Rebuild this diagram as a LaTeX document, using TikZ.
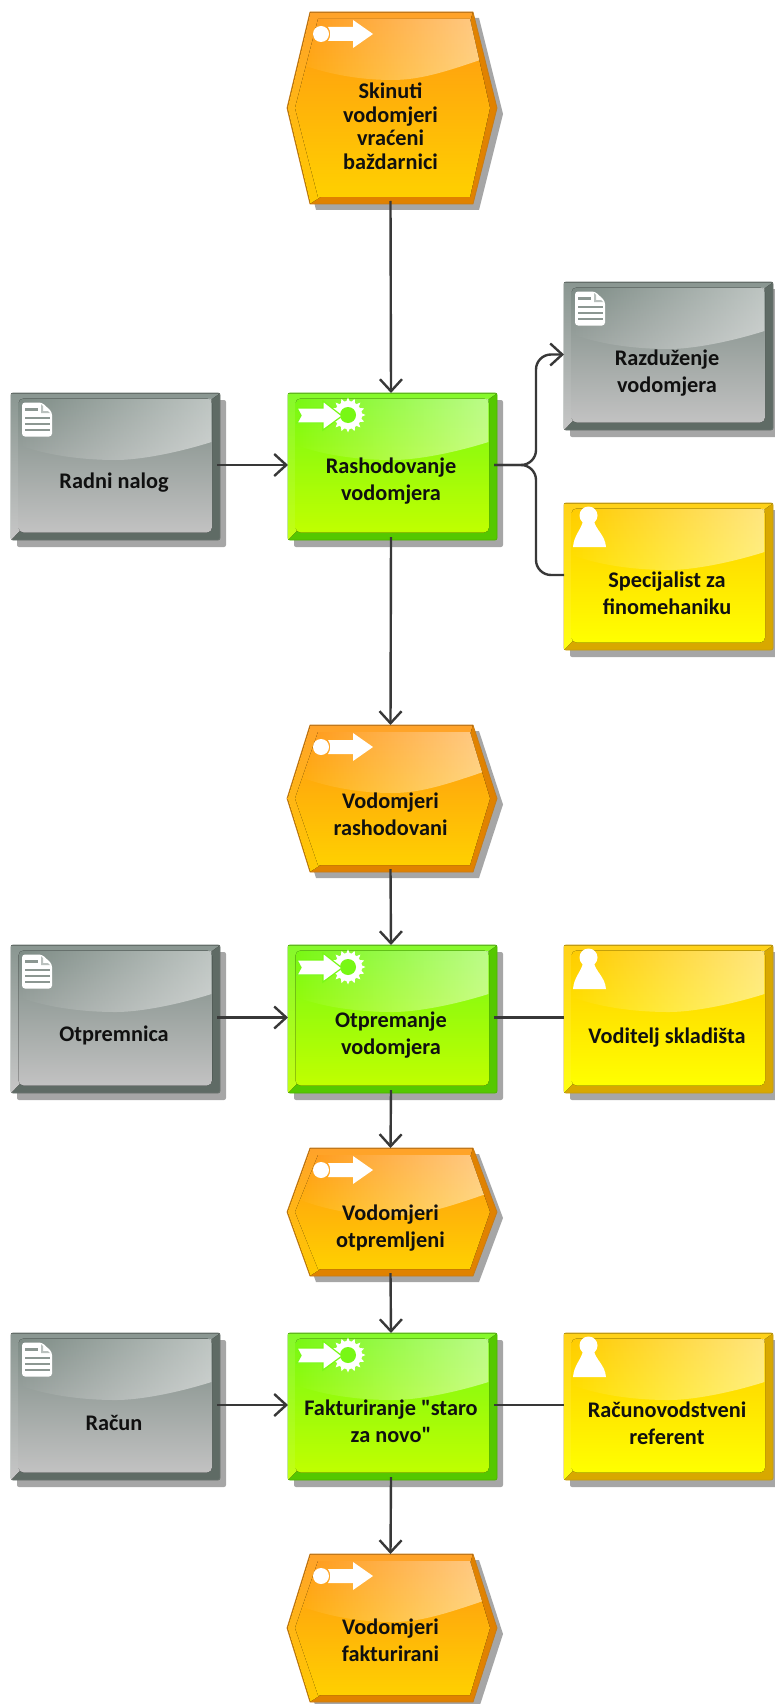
\documentclass[tikz,border=0pt]{standalone}
\usepackage{fontspec}
\newfontfamily\boxfont{Carlito}
\usetikzlibrary{arrows.meta,fadings}
\definecolor{grayDark}{HTML}{5F6B65}\definecolor{grayLine}{HTML}{6A736E}\definecolor{grayTop}{HTML}{7D8B85}\definecolor{grayBot}{HTML}{C2C2C2}
\definecolor{greenDark}{HTML}{55C800}\definecolor{greenLine}{HTML}{4DB400}\definecolor{greenTop}{HTML}{78F814}\definecolor{greenBot}{HTML}{C0FF00}
\definecolor{yelDark}{HTML}{D8A800}\definecolor{yelLine}{HTML}{C89C10}\definecolor{yelTop}{HTML}{FFCC00}\definecolor{yelBot}{HTML}{FFFF00}
\definecolor{oraDark}{HTML}{E08200}\definecolor{oraLine}{HTML}{C87C18}\definecolor{oraTop}{HTML}{FF9812}\definecolor{oraBot}{HTML}{FFD000}
\definecolor{shadowc}{HTML}{A6A6A6}\definecolor{stripec}{HTML}{8C9792}\definecolor{connc}{HTML}{383838}\definecolor{txtc}{HTML}{101010}
\tikzfading[name=glossfade,left color=transparent!100,right color=transparent!50]
\tikzset{
  conn/.style={draw=connc,line width=2.4pt},
  connarrow/.style={conn,-{Straight Barb[length=12pt,width=22pt,line width=2.4pt]}},
  boxtext/.style={inner sep=0pt,outer sep=0pt,text=txtc,font=\boxfont\fontsize{22.3}{27}\selectfont\bfseries}
}
\newcommand\nodetxt[2]{\smash{\raisebox{-#1pt}{\begin{tabular}[c]{@{}c@{}}#2\end{tabular}}}}
% --- icons, local coordinates from box top-left
\newcommand\docicon[2]{\begin{scope}[shift={(#1,#2)}]
  \fill[white,rounded corners=3pt] (11,9.5) -- (31,9.5) -- (41,19) -- (41,43.5) -- (11,43.5) -- cycle;
  \fill[stripec] (14,15) rectangle (27,17.5);
  \fill[stripec] (14,24) rectangle (39,26.2);
  \fill[stripec] (14,30) rectangle (39,32.2);
  \fill[stripec] (14,36) rectangle (39,38.2);
  \fill[stripec!60!white] (30,11) -- (30,20) -- (39,20) -- (37,18) -- (32,18) -- (32,13) -- cycle;
\end{scope}}
\newcommand\personicon[2]{\begin{scope}[shift={(#1,#2)}]
  \fill[white] (24.5,12.5) circle (9);
  \fill[white] (9,44) .. controls (10,32) and (17,27) .. (19,18) -- (30,18) .. controls (32,27) and (41,32) .. (42,44) -- cycle;
\end{scope}}
\newcommand\eventicon[2]{\begin{scope}[shift={(#1,#2)}]
  \fill[white] (34,22) circle (8);
  \fill[white] (41,15) -- (66,15) -- (66,8) -- (86,22) -- (66,36) -- (66,29) -- (41,29) .. controls (44,25) and (44,19) .. (41,15) -- cycle;
\end{scope}}
\newcommand\funcicon[2]{\begin{scope}[shift={(#1,#2)}]
  \begin{scope}[shift={(60,22)}]
    \fill[white] (0,0) circle (14);
    \foreach \a in {0,22.5,...,337.5}{\fill[white] (\a-8:13.5) -- (\a:17.5) -- (\a+8:13.5) -- cycle;}
    \fill[greenTop] (0,0) circle (8);
  \end{scope}
  \filldraw[fill=white,draw=greenTop,line width=1.2pt] (9,15) -- (35,15) -- (35,8) -- (54,23) -- (35,37) -- (35,30) -- (9,30) -- (13,22.5) -- cycle;
\end{scope}}
% --- rectangle object: name, palette, L, T, R, B, icon, offset, text
\newcommand\rectobj[9]{%
  \fill[shadowc,rounded corners=2pt] (#3+6,#4+7) rectangle (#5+6,#6+7);
  \filldraw[fill=#2Dark,draw=#2Line,line width=.8pt,rounded corners=2pt] (#3,#4) rectangle (#5,#6);
  \fill[top color=#2Top!90!white,bottom color=#2Bot!93!white] (#3+.4,#4+.4) -- (#5-.4,#4+.4) -- (#5-8,#4+6) -- (#3+7.5,#6-8) -- (#3+.4,#6-.4) -- cycle;
  \fill[top color=#2Top,bottom color=#2Bot,rounded corners=5pt] (#3+7.5,#4+5.5) rectangle (#5-8,#6-7.5);
  \fill[white,path fading=glossfade] (#3+8,#4+6) -- (#5-8.5,#4+6) -- (#5-8.5,#4+49) .. controls (#5-50,#4+62) and (#5-85,#4+67) .. (#3+105,#4+67) .. controls (#3+70,#4+67) and (#3+35,#4+62) .. (#3+8,#4+52) -- cycle;
  #7
  \node[boxtext,minimum width={(#5-#3-3)*1pt},minimum height={(#6-#4-3)*1pt}] (#1) at ({(#3+#5)/2-1.5},{(#4+#6)/2-1.5}) {\nodetxt{#8}{#9}};
}
% --- hexagon event: name, T, B, offset, text
\newcommand\hexobj[5]{%
  \fill[shadowc] (287+6,{(#2+#3)/2+6}) -- (310+6,#2+6) -- (473+6,#2+6) -- (497+6,{(#2+#3)/2+6}) -- (473+6,#3+6) -- (310+6,#3+6) -- cycle;
  \filldraw[fill=oraDark,draw=oraLine,line width=.8pt,line join=round] (287,{(#2+#3)/2}) -- (310,#2) -- (473,#2) -- (497,{(#2+#3)/2}) -- (473,#3) -- (310,#3) -- cycle;
  \fill[top color=oraTop!90!white,bottom color=oraBot!92!orange] (287.6,{(#2+#3)/2}) -- (310.4,#2+.4) -- (472.6,#2+.4) -- (470,#2+10) -- (325,#2+10) -- (303,{(#2+#3)/2}) -- (325,#3-10) -- (310.4,#3-.4) -- cycle;
  \fill[top color=oraTop,bottom color=oraBot] (295,{(#2+#3)/2}) -- (318,#2+7) -- (470,#2+7) -- (490,{(#2+#3)/2}) -- (470,#3-7) -- (318,#3-7) -- cycle;
  \begin{scope}
    \clip (295,{(#2+#3)/2}) -- (318,#2+7) -- (470,#2+7) -- (490,{(#2+#3)/2}) -- (470,#3-7) -- (318,#3-7) -- cycle;
    \fill[white,path fading=glossfade] (295,#2+7) -- (486,#2+7) -- (486,#2+46) .. controls (445,#2+60) and (420,#2+68) .. (392,#2+68) .. controls (360,#2+68) and (325,#2+62) .. (295,#2+50) -- cycle;
  \end{scope}
  \eventicon{287}{#2}
  \node[boxtext,minimum width=207pt,minimum height={(#3-#2-3)*1pt}] (#1) at (390.5,{(#2+#3)/2-1.5}) {\nodetxt{#4}{#5}};
}
\begin{document}
\begin{tikzpicture}[x=1pt,y=-1pt]
\useasboundingbox (0,0) rectangle (775,1704);
\hexobj{hA}{12}{204}{27.5}{Skinuti\\[-3.5pt]vodomjeri\\[-3.5pt]vraćeni\\[-3.5pt]baždarnici}
\rectobj{fA}{green}{288}{393}{497}{540}{\funcicon{288}{393}}{21.5}{Rashodovanje\\vodomjera}
\rectobj{dA}{gray}{11}{393}{220}{540}{\docicon{11}{393}}{23.5}{Radni nalog}
\rectobj{dB}{gray}{564}{282}{773}{430}{\docicon{564}{282}}{24.5}{Razduženje\\vodomjera}
\rectobj{pA}{yel}{564}{503}{773}{650}{\personicon{564}{503}}{25.5}{Specijalist za\\finomehaniku}
\hexobj{hB}{725}{872}{24.5}{Vodomjeri\\rashodovani}
\rectobj{fB}{green}{288}{945}{497}{1093}{\funcicon{288}{945}}{23.5}{Otpremanje\\vodomjera}
\rectobj{dC}{gray}{11}{945}{220}{1093}{\docicon{11}{945}}{23.5}{Otpremnica}
\rectobj{pB}{yel}{564}{945}{773}{1093}{\personicon{564}{945}}{25.5}{Voditelj skladišta}
\hexobj{hC}{1148}{1276}{23}{Vodomjeri\\otpremljeni}
\rectobj{fC}{green}{288}{1333}{497}{1480}{\funcicon{288}{1333}}{23.5}{Fakturiranje "staro\\za novo"}
\rectobj{dD}{gray}{11}{1333}{220}{1480}{\docicon{11}{1333}}{25.5}{Račun}
\rectobj{pC}{yel}{564}{1333}{773}{1480}{\personicon{564}{1333}}{25.5}{Računovodstveni\\referent}
\hexobj{hD}{1554}{1702}{21.5}{Vodomjeri\\fakturirani}
\coordinate (bus) at (536,0);
\draw[connarrow] (hA.south) -- (fA.north);
\draw[connarrow] (dA.east) -- (fA.west);
\draw[connarrow,rounded corners=15pt] (fA.east) -- (fA.east -| bus) |- (dB.west);
\draw[conn,rounded corners=15pt] (fA.east) -- (fA.east -| bus) |- (pA.west);
\draw[connarrow] (fA.south) -- (hB.north);
\draw[connarrow] (hB.south) -- (fB.north);
\draw[connarrow] (dC.east) -- (fB.west);
\draw[conn] (fB.east) -- (pB.west);
\draw[connarrow] (fB.south) -- (hC.north);
\draw[connarrow] (hC.south) -- (fC.north);
\draw[connarrow] (dD.east) -- (fC.west);
\draw[conn] (fC.east) -- (pC.west);
\draw[connarrow] (fC.south) -- (hD.north);
\end{tikzpicture}
\end{document}
